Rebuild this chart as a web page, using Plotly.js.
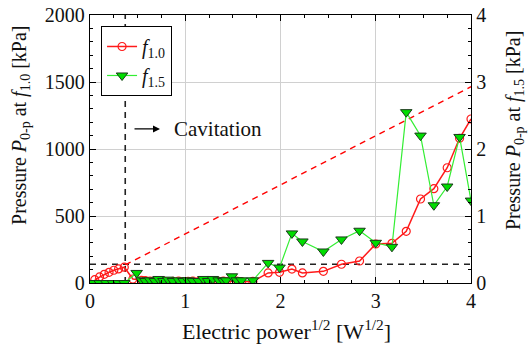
<!DOCTYPE html>
<html>
<head>
<meta charset="utf-8">
<script src="https://cdn.plot.ly/plotly-3.0.1.min.js"></script>
<style>html,body{margin:0;padding:0;background:#fff;}#chart{width:532px;height:347px;}</style>
</head>
<body>
<div id="chart"></div>
<script>
// Series f1.0 (left axis, kPa)
const xF10 = [0.05,0.10,0.15,0.20,0.25,0.30,0.36,0.45,0.54,0.58,0.63,0.68,0.72,0.77,0.82,0.87,0.93,0.98,1.03,1.08,1.14,1.19,1.24,1.29,1.35,1.40,1.43,1.49,1.54,1.59,1.71,1.87,1.99,2.12,2.23,2.45,2.64,2.83,3.00,3.17,3.32,3.47,3.61,3.75,3.88,4.00];
const yF10 = [25,45,65,80,95,105,118,30,20,18,15,15,12,15,10,12,15,10,12,15,10,12,15,10,12,15,10,12,15,10,12,75,80,104,75,87,140,164,291,296,386,627,704,860,1080,1224];
// Series f1.5 (right axis, kPa)
const xF15 = [0.03,0.10,0.17,0.24,0.30,0.36,0.49,0.54,0.58,0.63,0.68,0.72,0.77,0.82,0.87,0.93,0.98,1.03,1.08,1.14,1.19,1.24,1.29,1.35,1.40,1.43,1.49,1.54,1.59,1.71,1.87,1.99,2.12,2.23,2.45,2.64,2.83,3.00,3.17,3.32,3.47,3.61,3.75,3.88,4.00,4.12];
const yF15 = [0,0,0,0,0,0,0.15,0.04,0.03,0.04,0.03,0.06,0.03,0.05,0.03,0.04,0.03,0.04,0.03,0.03,0.06,0.03,0.06,0.04,0.03,0.04,0.10,0.04,0.04,0.04,0.30,0.23,0.74,0.62,0.47,0.65,0.78,0.60,0.54,2.55,2.20,1.16,1.44,2.18,1.23,1.45];
// Reference lines
const cavitationX = [0.37, 0.37];
const cavitationY = [0, 2000];
const thresholdX = [0, 4];
const thresholdY = [140, 140];
const trendX = [0.37, 4.0];
const trendY = [135, 1465];
const xTickVals = [0,1,2,3,4];
const yTickVals = [0,500,1000,1500,2000];
const y2TickVals = [0,1,2,3,4];

const FONT = '"Liberation Serif", "Times New Roman", Times, "DejaVu Serif", serif';

const traces = [
  {x: cavitationX, y: cavitationY, mode:'lines', line:{color:'#222', width:1.6, dash:'6px,5px'}, showlegend:false, hoverinfo:'skip'},
  {x: thresholdX, y: thresholdY, mode:'lines', line:{color:'#222', width:1.6, dash:'6px,5px'}, showlegend:false, hoverinfo:'skip'},
  {x: trendX, y: trendY, mode:'lines', line:{color:'#ff0000', width:1.4, dash:'6px,5px'}, showlegend:false, hoverinfo:'skip'},
  {x: xF10, y: yF10, name:'<i>f</i><sub>1.0</sub>', mode:'lines+markers', line:{color:'#ff1a1a', width:1.5},
   marker:{symbol:'circle-open', size:8, color:'#ff1a1a', line:{width:1.2}}},
  {x: xF15, y: yF15, yaxis:'y2', name:'<i>f</i><sub>1.5</sub>', mode:'lines+markers', line:{color:'#33ee33', width:1.2},
   marker:{symbol:'triangle-down', size:10, color:'#00dd00', line:{color:'#1a3a1a', width:1}}}
];

const layout = {
  width:532, height:347,
  margin:{l:90, r:61, t:15, b:64},
  paper_bgcolor:'#fff', plot_bgcolor:'#fff',
  font:{family:FONT, size:19, color:'#111'},
  showlegend:true,
  legend:{x:0.029, y:0.959, xanchor:'left', yanchor:'top', bordercolor:'#000', borderwidth:1, bgcolor:'#fff',
          font:{family:FONT, size:20}, tracegroupgap:0, itemwidth:30},
  xaxis:{range:[0,4], tickvals:xTickVals, ticks:'inside', ticklen:6, tickcolor:'#000',
         showline:true, linecolor:'#000', linewidth:1.2, mirror:'ticks',
         showgrid:true, gridcolor:'#d0d0d0', gridwidth:1, zeroline:false,
         minor:{dtick:0.25, ticks:'inside', ticklen:3, tickcolor:'#000', showgrid:false},
         tickfont:{family:FONT, size:20}},
  yaxis:{range:[0,2000], tickvals:yTickVals, ticks:'inside', ticklen:6, tickcolor:'#000',
         showline:true, linecolor:'#000', linewidth:1.2,
         showgrid:true, gridcolor:'#d0d0d0', gridwidth:1, zeroline:false,
         minor:{dtick:100, ticks:'inside', ticklen:3, tickcolor:'#000', showgrid:false},
         tickfont:{family:FONT, size:20}},
  yaxis2:{range:[0,4], tickvals:y2TickVals, overlaying:'y', side:'right', ticks:'inside', ticklen:6, tickcolor:'#000',
          showline:true, linecolor:'#000', linewidth:1.2, showgrid:false, zeroline:false,
          minor:{dtick:0.2, ticks:'inside', ticklen:3, tickcolor:'#000', showgrid:false},
          tickfont:{family:FONT, size:20}},
  annotations:[
    {xref:'paper', yref:'paper', x:-0.181, y:0.586, textangle:-90, showarrow:false, xanchor:'center', yanchor:'middle',
     text:'Pressure <i>P</i><sub>0-p</sub> at <i>f</i><sub>1.0</sub> [kPa]', font:{family:FONT, size:20}},
    {xref:'paper', yref:'paper', x:1.113, y:0.567, textangle:-90, showarrow:false, xanchor:'center', yanchor:'middle',
     text:'Pressure <i>P</i><sub>0-p</sub> at <i>f</i><sub>1.5</sub> [kPa]', font:{family:FONT, size:20}},
    {xref:'paper', yref:'paper', x:0.516, y:-0.175, showarrow:false, xanchor:'center', yanchor:'middle',
     text:'Electric power<sup>1/2</sup> [W<sup>1/2</sup>]', font:{family:FONT, size:22}},
    {xref:'x', yref:'y', x:0.735, y:1150, ax:-27, ay:0, text:'', showarrow:true, arrowhead:2, arrowsize:1, arrowwidth:1.4, arrowcolor:'#000'},
    {xref:'x', yref:'y', x:0.86, y:1150, xanchor:'left', yanchor:'middle', showarrow:false, text:'Cavitation', font:{family:FONT, size:21}}
  ]
};

Plotly.newPlot('chart', traces, layout, {staticPlot:true, displayModeBar:false});
</script>
</body>
</html>
